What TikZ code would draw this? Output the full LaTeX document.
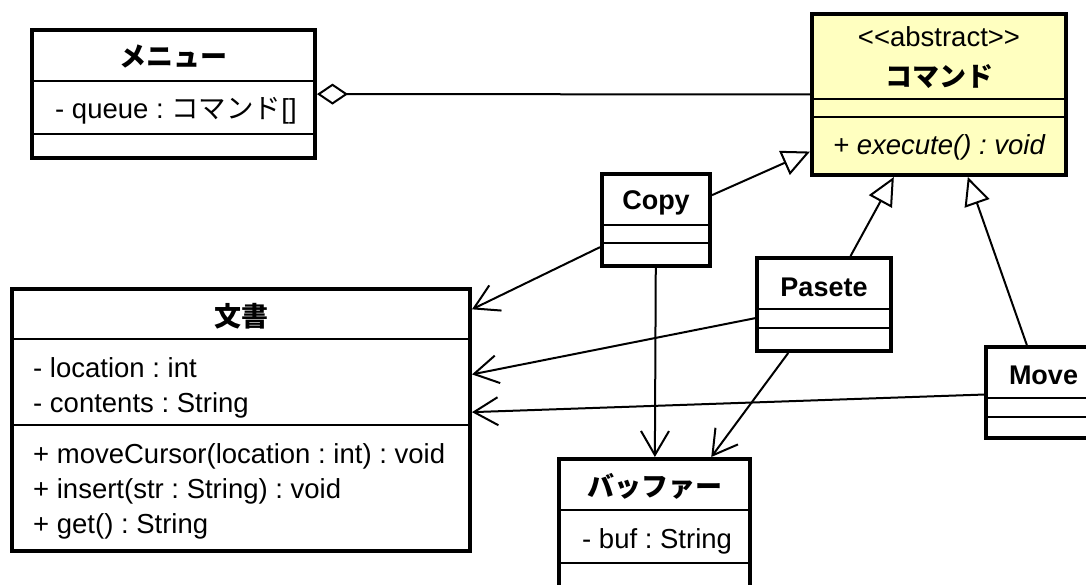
\documentclass[tikz,border=0pt]{standalone}
\usepackage{fontspec}
\setmainfont{Liberation Sans}
\newfontfamily\cjk{Noto Sans CJK JP}
\usetikzlibrary{arrows.meta}
\definecolor{cmdfill}{RGB}{255,255,192}
\begin{document}
\frenchspacing
\begin{tikzpicture}[x=1pt,y=-1pt,
  classbox/.style={draw, line width=4pt, inner sep=0pt, fill=white},
  sepline/.style={line width=2pt},
  ctitle/.style={anchor=base, inner sep=0pt, font=\fontsize{27}{32}\selectfont\bfseries},
  cstereo/.style={anchor=base, inner sep=0pt, font=\fontsize{27.5}{32}\selectfont},
  ctext/.style={anchor=base west, inner sep=0pt, font=\fontsize{27.5}{32}\selectfont},
  conn/.style={line width=2pt},
  gen/.style={conn, -{Triangle[length=28pt, width=26pt, fill=white]}},
  dep/.style={conn, -{Straight Barb[length=24pt, width=28pt]}},
  aggr/.style={conn, {Diamond[length=31pt, width=21pt, fill=white]}-}]
\useasboundingbox (0,0) rectangle (1086,585);

% class boxes
\node[classbox, minimum width=283pt, minimum height=128pt] (menu) at (173.5,94) {};
\node[classbox, fill=cmdfill, minimum width=254pt, minimum height=161pt] (cmd) at (939,94.5) {};
\node[classbox, minimum width=108pt, minimum height=92pt] (copy) at (656,220) {};
\node[classbox, minimum width=134pt, minimum height=93pt] (pasete) at (824,304.5) {};
\node[classbox, minimum width=115pt, minimum height=91pt] (move) at (1043.5,392.5) {};
\node[classbox, minimum width=191pt, minimum height=150pt] (buf) at (654.5,534) {};
\node[classbox, minimum width=458pt, minimum height=262pt] (doc) at (241,420) {};

% separators
\foreach \n/\a/\b in {menu/81/134, cmd/99/117, copy/225/243, pasete/309/328, move/398/417, buf/510/563, doc/339/425}{
  \draw[sepline] (\n.west |- 0,\a) -- (\n.east |- 0,\a);
  \draw[sepline] (\n.west |- 0,\b) -- (\n.east |- 0,\b);
}

% texts
\node[ctitle] (menuT) at (173.5,67) {\cjk メニュー};
\node[ctext] (menuA) at (55,119) {- queue : {\cjk コマンド}[]};

\node[cstereo] (cmdS) at (939,47) {<\kern0pt<abstract>\kern0pt>};
\node[ctitle] (cmdT) at (939,87) {\cjk コマンド};
\node[cstereo, font=\fontsize{27.5}{32}\selectfont\itshape] (cmdM) at (939,155) {+ execute() : void};

\node[ctitle] (copyT) at (656,210) {Copy};
\node[ctitle] (pasT) at (824,296) {Pasete};
\node[ctitle] (moveT) at (1043.5,384) {Move};

\node[ctitle] (bufT) at (654.5,496) {\cjk バッファー};
\node[ctext] (bufA) at (582,548) {- buf : String};

\node[ctitle] (docT) at (241,326) {\cjk 文書};
\node[ctext] (docA1) at (33,377) {- location : int};
\node[ctext] (docA2) at (33,412) {- contents : String};
\node[ctext] (docM1) at (33,463) {+ moveCursor(location : int) : void};
\node[ctext] (docM2) at (33,498) {+ insert(str : String) : void};
\node[ctext] (docM3) at (33,533) {+ get() : String};

% connectors
\draw[aggr] (menu) -- (cmd);
\draw[gen] (copy) -- (cmd);
\draw[gen] (pasete) -- (cmd);
\draw[gen] (move) -- (cmd);
\draw[dep] (copy) -- (doc);
\draw[dep] (pasete) -- (doc);
\draw[dep] (move) -- (doc);
\draw[dep] (copy) -- (buf);
\draw[dep] (pasete) -- (buf);
\end{tikzpicture}
\end{document}
